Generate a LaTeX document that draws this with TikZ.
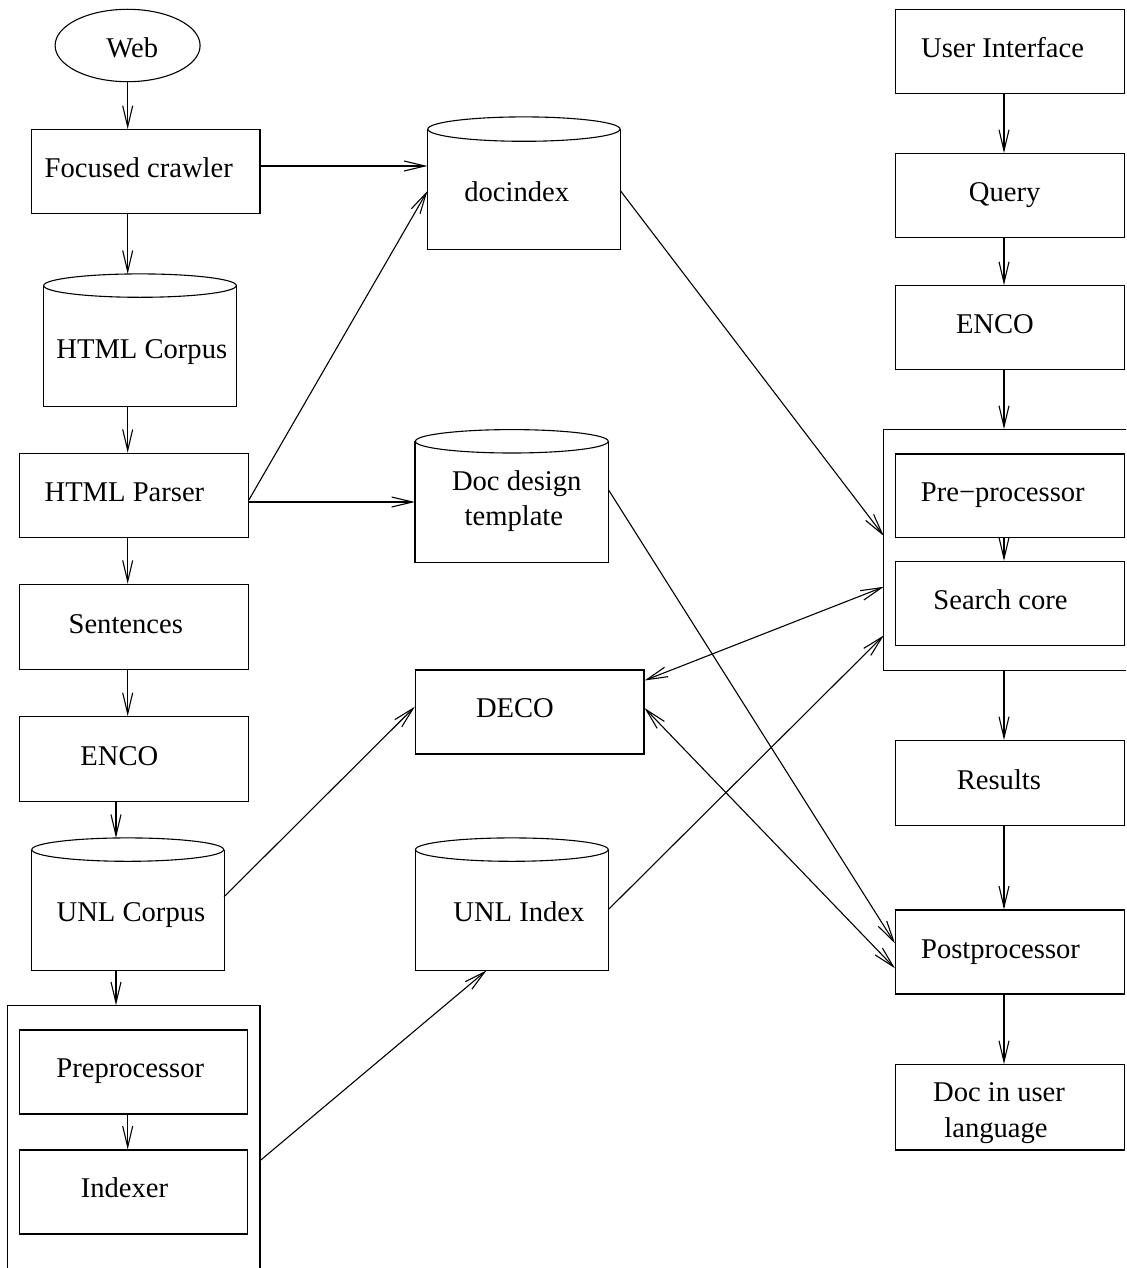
\documentclass[tikz,border=0pt]{standalone}
\usepackage{fontspec}
\setmainfont{Liberation Serif}
\usetikzlibrary{arrows.meta,calc,shapes.geometric}

\newcommand\drawcyl[3]{% node name, x radius, y radius (px)
  \draw[ln] ($(#1.north west)+(0,#3)$) -- (#1.south west) -- (#1.south east) -- ($(#1.north east)+(0,#3)$);
  \draw[ln] ($(#1.north)+(0,#3)$) ellipse [x radius=#2, y radius=#3*0.5pt];
}

\begin{document}
\begin{tikzpicture}[x=0.5pt,y=-0.5pt,
  ln/.style={line width=0.55pt},
  box/.style={draw, rectangle, line width=0.55pt, inner sep=0pt},
  holder/.style={rectangle, draw=none, inner sep=0pt},
  ell/.style={draw, ellipse, line width=0.55pt, inner sep=0pt},
  lbl/.style={anchor=base west, inner sep=0pt, font=\fontsize{14.3pt}{17.5pt}\selectfont},
  arr/.style={line width=0.55pt, -{Straight Barb[length=10.5pt,width=5pt]}},
  darr/.style={line width=0.55pt, {Straight Barb[length=10.5pt,width=5pt]}-{Straight Barb[length=10.5pt,width=5pt]}}]

\fill[white] (0,0) rectangle (1126,1268);
\useasboundingbox (0,0) rectangle (1126,1268);

% column lines for straight arrows
\coordinate (xa) at (127.7,0);
\coordinate (xb) at (116,0);
\coordinate (xr) at (1004,0);

% ---------- left column ----------
\node[ell, minimum width=72.5pt, minimum height=36.2pt] (web) at (127.6,45.5) {};
\node[lbl] (web-t) at (106,57.3) {Web};

\node[box, minimum width=114.15pt, minimum height=41.8pt] (fc) at (145.85,171.5) {};
\node[lbl] (fc-t) at (44.3,177) {Focused crawler};

\node[holder, minimum width=96.3pt, minimum height=65.85pt] (hc) at (140,340.15) {};
\drawcyl{hc}{48.15pt}{11.7}
\node[lbl] (hc-t) at (56,358) {HTML Corpus};

\node[box, minimum width=114.25pt, minimum height=42.2pt] (hp) at (134.05,495.5) {};
\node[lbl] (hp-t) at (44.2,501) {HTML Parser};

\node[box, minimum width=114.25pt, minimum height=42.5pt] (sen) at (134.05,626.8) {};
\node[lbl] (sen-t) at (68.2,633.3) {Sentences};

\node[box, minimum width=114.25pt, minimum height=42.5pt] (enc1) at (134.05,759.2) {};
\node[lbl] (enc1-t) at (80,765.7) {ENCO};

\node[holder, minimum width=95.95pt, minimum height=65.85pt] (uc) at (127.75,904.15) {};
\drawcyl{uc}{47.98pt}{11.7}
\node[lbl] (uc-t) at (56.3,921.7) {UNL Corpus};

\node[holder, minimum width=125.7pt, minimum height=131.15pt] (cont1) at (133.9,1136.85) {};
\draw[ln] (cont1.south west) -- (cont1.north west) -- (cont1.north east) -- (cont1.south east);

\node[box, minimum width=114.1pt, minimum height=42pt] (pre1) at (133.7,1072) {};
\node[lbl] (pre1-t) at (56,1077.3) {Preprocessor};

\node[box, minimum width=114.1pt, minimum height=42pt] (idx) at (133.7,1192) {};
\node[lbl] (idx-t) at (80.4,1197.3) {Indexer};

% ---------- middle column ----------
\node[holder, minimum width=96.1pt, minimum height=66pt] (dix) at (523.9,183.3) {};
\drawcyl{dix}{48.05pt}{12.2}
\node[lbl] (dix-t) at (463.9,201.7) {docindex};

\node[holder, minimum width=96.4pt, minimum height=66pt] (ddt) at (511.8,496) {};
\drawcyl{ddt}{48.2pt}{11.7}
\node[lbl] (ddt-t1) at (451.6,490) {Doc design};
\node[lbl] (ddt-t2) at (464.2,525) {template};

\node[box, minimum width=114.3pt, minimum height=42pt] (deco) at (529.7,712) {};
\node[lbl] (deco-t) at (475.6,717.3) {DECO};

\node[holder, minimum width=96.35pt, minimum height=65.85pt] (ui2) at (511.85,904.15) {};
\drawcyl{ui2}{48.18pt}{11.7}
\node[lbl] (ui2-t) at (453,921.7) {UNL Index};

% ---------- right column ----------
\node[box, minimum width=114.4pt, minimum height=42.2pt] (ui) at (1009.9,51.5) {};
\node[lbl] (ui-t) at (920.8,57.7) {User Interface};

\node[box, minimum width=114.4pt, minimum height=42pt] (qry) at (1009.9,195.7) {};
\node[lbl] (qry-t) at (968.5,201.7) {Query};

\node[box, minimum width=114.4pt, minimum height=41.8pt] (enc2) at (1009.9,327.5) {};
\node[lbl] (enc2-t) at (955.6,333.3) {ENCO};

\node[holder, minimum width=120.9pt, minimum height=120.15pt] (cont2) at (1005.1,549.65) {};
\draw[ln] (cont2.north east) -- (cont2.north west) -- (cont2.south west) -- (cont2.south east);

\node[box, minimum width=114.4pt, minimum height=41.9pt] (ppr) at (1009.9,495.9) {};
\node[lbl] (ppr-t) at (920.5,501.4) {Pre−processor};

\node[box, minimum width=114.4pt, minimum height=42.1pt] (sc) at (1009.9,603.6) {};
\node[lbl] (sc-t) at (933,609.7) {Search core};

\node[box, minimum width=114.4pt, minimum height=42.5pt] (res) at (1009.9,783.1) {};
\node[lbl] (res-t) at (956.4,789.6) {Results};

\node[box, minimum width=114.4pt, minimum height=42pt] (post) at (1009.9,952) {};
\node[lbl] (post-t) at (920.7,958.3) {Postprocessor};

\node[box, minimum width=114.4pt, minimum height=42.65pt] (doc) at (1009.9,1107.35) {};
\node[lbl] (doc-t1) at (932.7,1101.7) {Doc in user};
\node[lbl] (doc-t2) at (944,1137.3) {language};

% ---------- vertical arrows ----------
\draw[arr] (web.south -| xa) -- (fc.north -| xa);
\draw[arr] (fc.south -| xa) -- (hc.north -| xa);
\draw[arr] (hc.south -| xa) -- (hp.north -| xa);
\draw[arr] (hp.south -| xa) -- (sen.north -| xa);
\draw[arr] (sen.south -| xa) -- (enc1.north -| xa);
\draw[arr] (enc1.south -| xb) -- (uc.north -| xb);
\draw[arr] (uc.south -| xb) -- (cont1.north -| xb);
\draw[arr] (pre1.south -| xa) -- (idx.north -| xa);

\draw[arr] (ui.south -| xr) -- (qry.north -| xr);
\draw[arr] (qry.south -| xr) -- (enc2.north -| xr);
\draw[arr] (enc2.south -| xr) -- (cont2.north -| xr);
\draw[arr] (ppr.south -| xr) -- (sc.north -| xr);
\draw[arr] (cont2.south -| xr) -- (res.north -| xr);
\draw[arr] (res.south -| xr) -- (post.north -| xr);
\draw[arr] (post.south -| xr) -- (doc.north -| xr);

% ---------- horizontal and diagonal connectors ----------
\draw[arr] ($(fc.east)+(0,-5.5)$) -- ($(dix.west)+(0,-17.3)$);
\draw[arr] ($(hp.east)+(0,4.5)$) -- ($(dix.west)+(0,7.7)$);
\draw[arr] ($(hp.east)+(0,6.5)$) -- ($(ddt.west)+(0,6)$);
\draw[arr] ($(dix.east)+(0,7.4)$) -- ($(cont2.west)+(0,-13.65)$);
\draw[arr] ($(ddt.east)+(0,-6)$) -- ($(post.west)+(0,-8.6)$);
\draw[darr] ($(deco.east)+(0,-31.5)$) -- ($(cont2.west)+(0,37.15)$);
\draw[arr] ($(uc.east)+(0,-7.45)$) -- ($(deco.west)+(0,-5.3)$);
\draw[arr] ($(ui2.east)+(0,5.15)$) -- ($(cont2.west)+(0,85.75)$);
\draw[darr] ($(deco.east)+(0,-4)$) -- ($(post.west)+(0,16.3)$);
\draw[arr] ($(cont1.east)+(0,23.85)$) -- ($(ui2.south)+(-25.35,0)$);

\end{tikzpicture}
\end{document}
